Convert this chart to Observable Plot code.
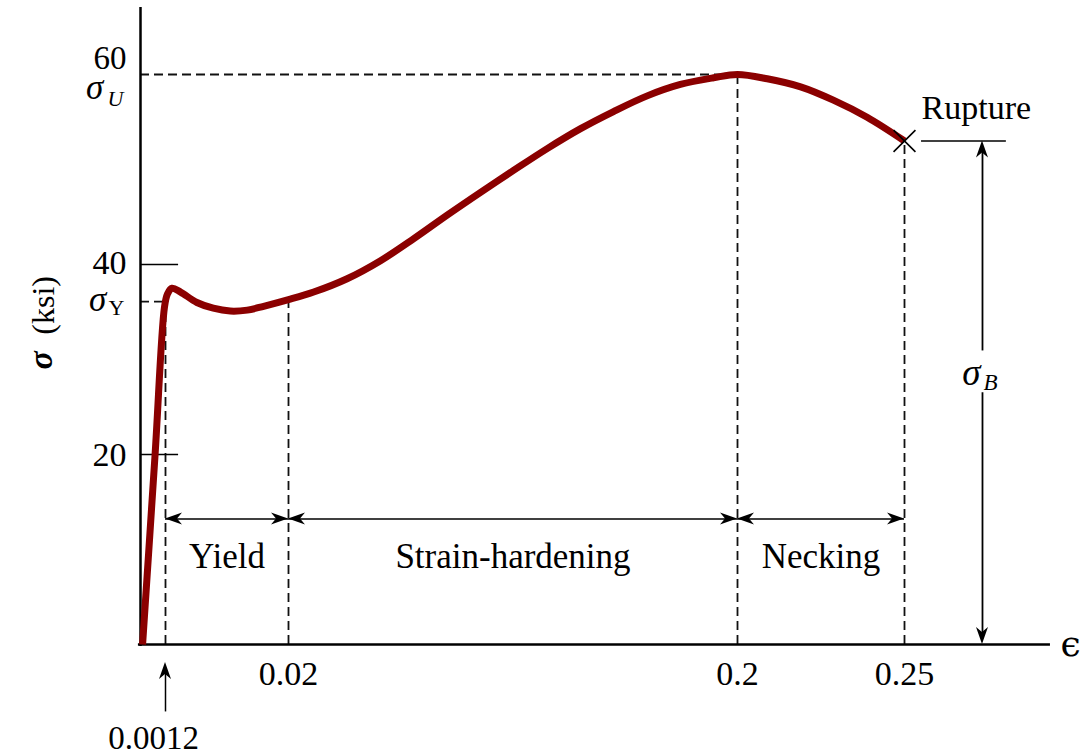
<!DOCTYPE html>
<html>
<head>
<meta charset="utf-8">
<script src="https://cdn.jsdelivr.net/npm/d3@7"></script>
<script src="https://cdn.jsdelivr.net/npm/@observablehq/plot@0.6"></script>
<style>
  html, body { margin: 0; padding: 0; background: #fff; }
  #chart svg { display: block; }
</style>
</head>
<body>
<div id="chart"></div>
<script>
// ---- Data ----
const curveStrain = [0.0001, 0.0007, 0.00115, 0.0015, 0.0022, 0.0035, 0.006, 0.0085, 0.0111, 0.0137, 0.0162, 0.02,
  0.0301, 0.0435, 0.0569, 0.0701, 0.0836, 0.0970, 0.1102, 0.1237, 0.1371, 0.1503, 0.1638, 0.1771, 0.1904, 0.2,
  0.2089, 0.2189, 0.2287, 0.2388, 0.25];
const curveStress = [0, 20, 35.5, 36.9, 37.5, 37.1, 36.0, 35.4, 35.1, 35.2, 35.6, 36.3,
  37.1, 38.5, 40.4, 42.7, 45.2, 47.6, 49.9, 52.2, 54.3, 56.1, 57.75, 58.95, 59.65, 60,
  59.55, 58.7, 57.3, 55.5, 53];

const xTickValues = [0.0012, 0.02, 0.2, 0.25];
const xTickLabels = ["0.0012", "0.02", "0.2", "0.25"];
const dropStress = [36.1, 36.3, 60, 53];

const yTickValues = [20, 40, 60];
const yTickLabels = ["20", "40", "60"];

const sigmaU = 60;      // ultimate stress
const sigmaY = 36.1;    // yield stress
const yieldStrain = 0.0012;
const ultimateStrain = 0.2;
const ruptureStrain = 0.25;
const ruptureStress = 53;

const regionNames = ["Yield", "Strain-hardening", "Necking"];
const regionStart = [0.0012, 0.02, 0.2];
const regionEnd = [0.02, 0.2, 0.25];
const regionArrowStress = 13.2;
const regionLabelStress = 9.2;

const sigmaBStrain = 0.27335;
const sigmaBLabelStress = 28.1;
const sigmaBGapTop = 30.9;
const sigmaBGapBottom = 26.5;

// ---- Tables ----
const curve = curveStrain.map((e, i) => ({e, s: curveStress[i]}));
const drops = xTickValues.map((e, i) => ({e, s: dropStress[i]}));
const xticks = xTickValues.map((e, i) => ({e, label: xTickLabels[i]}));
const yticks = yTickValues.map((s, i) => ({s, label: yTickLabels[i]}));
const regions = regionNames.map((name, i) => ({name, a: regionStart[i], b: regionEnd[i], mid: (regionStart[i] + regionEnd[i]) / 2}));

// stealth arrowhead pointing up, tip at origin
const stealth = {
  draw(context) {
    context.moveTo(0, 0);
    context.lineTo(-6, 17);
    context.lineTo(0, 12);
    context.lineTo(6, 17);
    context.closePath();
  }
};

const heads = [
  ...regions.map(d => ({e: d.a, s: regionArrowStress, rot: 270, dx: 1})),
  ...regions.map(d => ({e: d.b, s: regionArrowStress, rot: 90, dx: -1})),
  {e: sigmaBStrain, s: ruptureStress, rot: 0, dx: 0},
  {e: sigmaBStrain, s: 0, rot: 180, dx: 0},
  {e: yieldStrain, s: -1.9, rot: 0, dx: 0}
];

const serif = "Liberation Serif, DejaVu Serif, serif";
const dash = "9,5";

const chart = Plot.plot({
  width: 1084,
  height: 755,
  marginTop: 0, marginRight: 0, marginBottom: 0, marginLeft: 0,
  style: {fontFamily: serif, background: "#fff", color: "#000", overflow: "visible"},
  x: {type: "linear", domain: [0, 0.0012, 0.02, 0.2, 0.25, 0.3], range: [140, 165, 288, 737, 904, 1071], axis: null},
  y: {type: "linear", domain: [0, 60], range: [644, 74], axis: null},
  marks: [
    // dashed guide lines
    Plot.ruleX(drops, {x: "e", y1: 0, y2: "s", stroke: "#111", strokeWidth: 1.8, strokeDasharray: dash}),
    Plot.ruleY([sigmaU], {y: d => d, x1: 0, x2: ultimateStrain, stroke: "#111", strokeWidth: 1.8, strokeDasharray: dash}),
    Plot.ruleY([sigmaY], {y: d => d, x1: 0, x2: yieldStrain, stroke: "#111", strokeWidth: 1.8, strokeDasharray: dash}),
    // axes
    Plot.ruleX([0], {x: d => d, y1: -0.2, y2: 67.05, stroke: "#000", strokeWidth: 2.5}),
    Plot.ruleY([0], {y: d => d, x1: -0.0001, x2: 0.2937, stroke: "#000", strokeWidth: 2.5}),
    // solid y ticks
    Plot.ruleY([20, 40], {y: d => d, x1: 0, x2: 0.0032, stroke: "#000", strokeWidth: 1.5}),
    // y tick labels
    Plot.text(yticks.filter(d => d.s === 20), {x: () => 0, y: "s", text: "label", textAnchor: "end", lineAnchor: "middle", dx: -14, dy: 1, fontSize: 34}),
    Plot.text(yticks.filter(d => d.s === 40), {x: () => 0, y: "s", text: "label", textAnchor: "end", lineAnchor: "middle", dx: -14, dy: -1, fontSize: 34}),
    Plot.text(yticks.filter(d => d.s === 60), {x: () => 0, y: "s", text: "label", textAnchor: "end", lineAnchor: "middle", dx: -14, dy: -16, fontSize: 33}),
    // sigma labels on y axis
    Plot.text([sigmaU], {x: () => 0, y: d => d, text: () => "σ", fontStyle: "italic", fontSize: 35, lineAnchor: "middle", dx: -46, dy: 13}),
    Plot.text([sigmaU], {x: () => 0, y: d => d, text: () => "U", fontStyle: "italic", fontSize: 22, lineAnchor: "middle", dx: -25, dy: 24}),
    Plot.text([sigmaY], {x: () => 0, y: d => d, text: () => "σ", fontStyle: "italic", fontSize: 35, lineAnchor: "middle", dx: -43, dy: -2}),
    Plot.text([sigmaY], {x: () => 0, y: d => d, text: () => "Y", fontSize: 22, lineAnchor: "middle", dx: -24, dy: 6}),
    // axis title
    Plot.text(["(ksi)"], {x: () => 0, y: () => 35.7, text: d => d, rotate: -90, fontSize: 32, lineAnchor: "middle", dx: -97}),
    Plot.text(["σ"], {x: () => 0, y: () => 29.9, text: d => d, rotate: -90, fontSize: 34, fontStyle: "italic", fontWeight: "bold", lineAnchor: "middle", dx: -99}),
    // x axis label
    Plot.text(["ϵ"], {x: () => 0.2937, y: () => 0, text: d => d, fontSize: 36, fontFamily: "DejaVu Serif, serif", textAnchor: "start", lineAnchor: "middle", dx: 10, dy: 0}),
    // x tick labels
    Plot.text(xticks.filter(d => d.e !== yieldStrain), {x: "e", y: () => 0, text: "label", fontSize: 34, lineAnchor: "middle", dy: 30}),
    Plot.text(xticks.filter(d => d.e === yieldStrain), {x: "e", y: () => 0, text: "label", fontSize: 33, lineAnchor: "middle", dx: -12, dy: 94}),
    // arrow pointing to 0.0012
    Plot.ruleX([yieldStrain], {x: d => d, y1: -7.1, y2: -2.6, stroke: "#000", strokeWidth: 1.5}),
    // region arrows
    Plot.ruleY(regions, {y: () => regionArrowStress, x1: "a", x2: "b", stroke: "#000", strokeWidth: 1.5}),
    Plot.text(regions, {x: "mid", y: () => regionLabelStress, text: "name", fontSize: 35, lineAnchor: "middle"}),
    // sigma_B double arrow
    Plot.ruleX([sigmaBStrain], {x: d => d, y1: sigmaBGapTop, y2: ruptureStress - 1, stroke: "#000", strokeWidth: 1.8}),
    Plot.ruleX([sigmaBStrain], {x: d => d, y1: 1, y2: sigmaBGapBottom, stroke: "#000", strokeWidth: 1.8}),
    Plot.text([sigmaBStrain], {x: d => d, y: () => sigmaBLabelStress, text: () => "σ", fontStyle: "italic", fontSize: 37, lineAnchor: "middle", dx: -11, dy: -4}),
    Plot.text([sigmaBStrain], {x: d => d, y: () => sigmaBLabelStress, text: () => "B", fontStyle: "italic", fontSize: 23, lineAnchor: "middle", dx: 8, dy: 5}),
    // rupture annotation
    Plot.ruleY([ruptureStress], {y: d => d, x1: 0.2551, x2: 0.2805, stroke: "#000", strokeWidth: 1.5}),
    Plot.text(["Rupture"], {x: () => 0.2551, y: () => ruptureStress, text: d => d, textAnchor: "start", fontSize: 34, lineAnchor: "middle", dy: -33}),
    // arrowheads
    Plot.dot(heads, {x: "e", y: "s", symbol: stealth, rotate: "rot", dx: "dx", fill: "#000", stroke: "none"}),
    // the stress-strain curve
    Plot.line(curve, {x: "e", y: "s", stroke: "#8b0000", strokeWidth: 7, curve: "catmull-rom", strokeLinecap: "butt", strokeLinejoin: "round"}),
    // rupture marker
    Plot.dot([{e: ruptureStrain, s: ruptureStress}], {x: "e", y: "s", symbol: "times", r: 10, stroke: "#000", strokeWidth: 1.6})
  ]
});

document.getElementById("chart").appendChild(chart);
</script>
</body>
</html>
